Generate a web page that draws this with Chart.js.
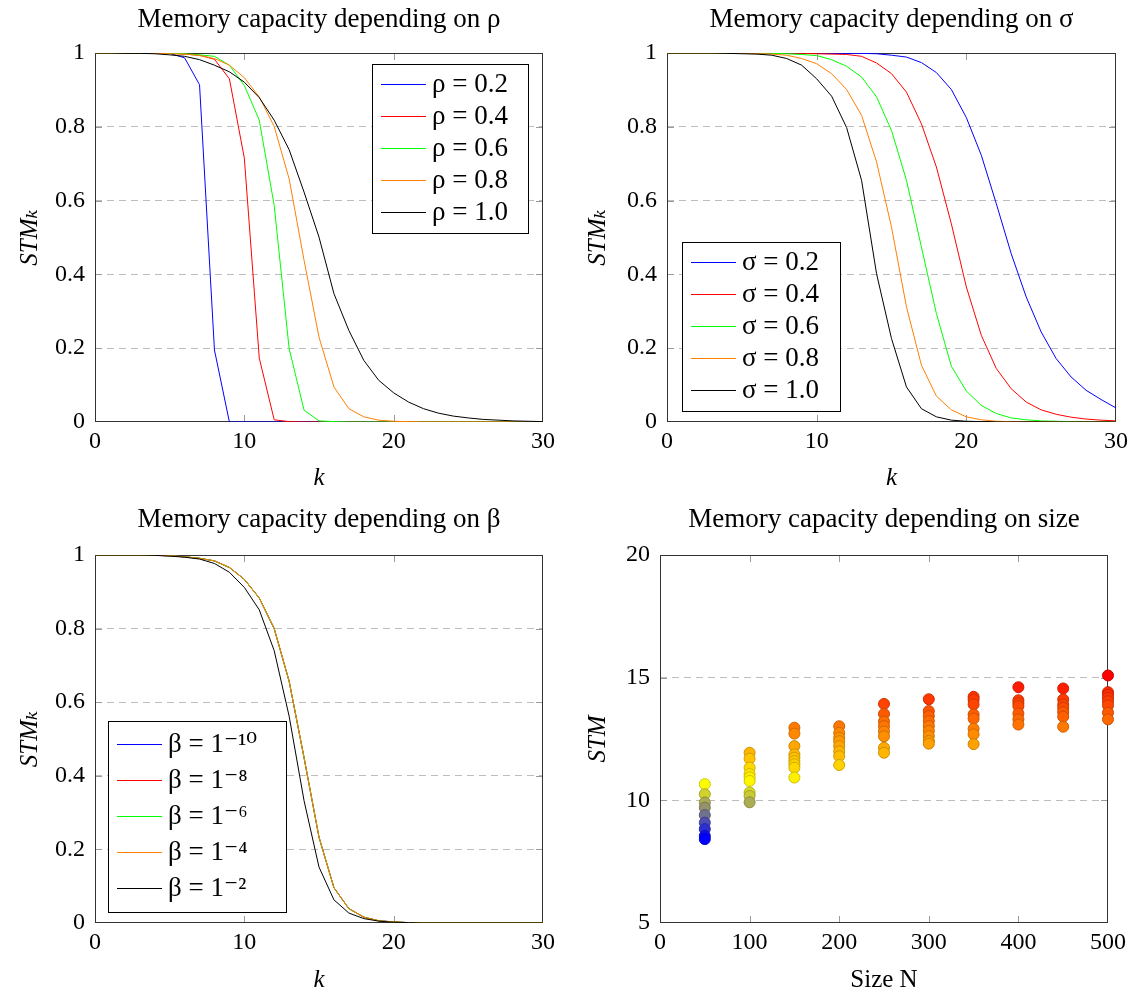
<!DOCTYPE html>
<html>
<head>
<meta charset="utf-8">
<script src="https://cdn.jsdelivr.net/npm/chart.js@4.4.1/dist/chart.umd.min.js"></script>
<style>
  body { margin: 0; background: #fff; }
  #wrap { position: relative; width: 1141px; height: 997px; }
  canvas { position: absolute; }
</style>
</head>
<body>
<div id="wrap">
  <canvas id="rhoChart" width="570" height="500" style="left:0;top:0"></canvas>
  <canvas id="sigmaChart" width="571" height="500" style="left:570px;top:0"></canvas>
  <canvas id="betaChart" width="570" height="497" style="left:0;top:500px"></canvas>
  <canvas id="sizeChart" width="571" height="497" style="left:570px;top:500px"></canvas>
</div>
<script>
// k = delay steps
const kSteps = [0,1,2,3,4,5,6,7,8,9,10,11,12,13,14,15,16,17,18,19,20,21,22,23,24,25,26,27,28,29,30];

// STM_k for different rho
const rhoNames = ["ρ = 0.2", "ρ = 0.4", "ρ = 0.6", "ρ = 0.8", "ρ = 1.0"];
const rho02 = [1,1,1,1,1,0.999,0.987,0.914,0.195,0,0,0,0,0,0,0,0,0,0,0,0,0,0,0,0,0,0,0,0,0,0];
const rho04 = [1,1,1,1,1,0.999,0.997,0.994,0.983,0.930,0.715,0.173,0.006,0.001,0,0,0,0,0,0,0,0,0,0,0,0,0,0,0,0,0];
const rho06 = [1,1,1,1,1,0.999,0.998,0.995,0.991,0.967,0.912,0.818,0.587,0.199,0.032,0.003,0.001,0,0,0,0,0,0,0,0,0,0,0,0,0,0];
const rho08 = [1,1,1,1,0.999,0.998,0.997,0.993,0.985,0.967,0.933,0.881,0.801,0.659,0.438,0.230,0.095,0.036,0.014,0.005,0.002,0.001,0,0,0,0,0,0,0,0,0];
const rho10 = [1,1,0.999,0.999,0.998,0.995,0.991,0.982,0.967,0.949,0.921,0.879,0.818,0.738,0.623,0.501,0.348,0.248,0.167,0.113,0.079,0.054,0.036,0.024,0.016,0.011,0.007,0.005,0.003,0.002,0.001];

// STM_k for different sigma
const sigmaNames = ["σ = 0.2", "σ = 0.4", "σ = 0.6", "σ = 0.8", "σ = 1.0"];
const sigma02 = [1,1,1,1,1,1,1,1,1,1,1,0.999,0.999,0.999,0.998,0.994,0.989,0.974,0.947,0.901,0.825,0.723,0.592,0.456,0.339,0.244,0.172,0.122,0.086,0.061,0.038];
const sigma04 = [1,1,1,1,1,1,1,1,1,0.999,0.998,0.997,0.996,0.991,0.973,0.944,0.894,0.808,0.691,0.537,0.366,0.235,0.145,0.090,0.054,0.033,0.021,0.013,0.008,0.005,0.003];
const sigma06 = [1,1,1,1,1,1,1,0.999,0.998,0.996,0.993,0.982,0.964,0.935,0.881,0.790,0.655,0.474,0.294,0.151,0.084,0.045,0.023,0.011,0.006,0.003,0.002,0.001,0,0,0];
const sigma08 = [1,1,1,1,1,0.999,0.998,0.997,0.994,0.985,0.971,0.944,0.901,0.831,0.705,0.528,0.312,0.154,0.070,0.033,0.014,0.006,0.002,0.001,0,0,0,0,0,0,0];
const sigma10 = [1,1,1,1,0.999,0.998,0.997,0.994,0.985,0.967,0.930,0.883,0.798,0.655,0.402,0.226,0.095,0.036,0.014,0.005,0.002,0.001,0,0,0,0,0,0,0,0,0];

// STM_k for different beta
const betaNames = ["β = 1⁻¹⁰", "β = 1⁻⁸", "β = 1⁻⁶", "β = 1⁻⁴", "β = 1⁻²"];
const beta10 = [1,1,1,1,0.999,0.998,0.995,0.991,0.984,0.966,0.934,0.883,0.800,0.657,0.449,0.233,0.096,0.039,0.016,0.006,0.003,0.001,0,0,0,0,0,0,0,0,0];
const beta8  = [1,1,1,1,0.999,0.998,0.995,0.991,0.984,0.966,0.934,0.883,0.800,0.657,0.449,0.233,0.096,0.039,0.016,0.006,0.003,0.001,0,0,0,0,0,0,0,0,0];
const beta6  = [1,1,1,1,0.999,0.998,0.995,0.991,0.984,0.966,0.934,0.883,0.800,0.657,0.449,0.233,0.096,0.039,0.016,0.006,0.003,0.001,0,0,0,0,0,0,0,0,0];
const beta4  = [1,1,1,1,0.999,0.998,0.995,0.991,0.984,0.966,0.934,0.883,0.800,0.657,0.449,0.233,0.096,0.039,0.016,0.006,0.003,0.001,0,0,0,0,0,0,0,0,0];
const beta2  = [1,1,1,1,0.999,0.997,0.994,0.989,0.977,0.953,0.912,0.851,0.740,0.562,0.332,0.152,0.063,0.027,0.012,0.005,0.002,0.001,0,0,0,0,0,0,0,0,0];

// STM for reservoir sizes (several runs per size)
const sizes = [50, 100, 150, 200, 250, 300, 350, 400, 450, 500];
const stmRuns = [
  [10.66, 10.25, 9.91, 9.70, 9.40, 9.09, 8.83, 8.55, 8.42],
  [11.94, 11.70, 11.33, 11.07, 10.94, 10.79, 10.32, 10.18, 9.92],
  [12.96, 12.72, 12.21, 11.87, 11.74, 11.60, 11.47, 11.33, 10.93],
  [13.02, 12.75, 12.55, 12.41, 12.21, 12.00, 11.80, 11.44],
  [13.93, 13.52, 13.22, 13.02, 12.81, 12.61, 12.14, 11.94],
  [14.12, 13.64, 13.44, 13.23, 13.03, 12.83, 12.62, 12.42, 12.31],
  [14.22, 14.10, 13.91, 13.50, 13.33, 12.92, 12.69, 12.29],
  [14.61, 14.08, 13.96, 13.84, 13.54, 13.30, 13.09],
  [14.56, 14.11, 13.90, 13.77, 13.60, 13.41, 13.00],
  [15.09, 14.41, 14.30, 14.18, 14.04, 13.87, 13.57, 13.30]
];

const lineColors = ["#0000ff", "#ff0000", "#00ff00", "#ff8000", "#000000"];
const SERIF = '"Liberation Serif", "DejaVu Serif", serif';
const gridGray = "#bdbdbd";

// pgfplots-like frame + inner tick marks
const frame = {
  id: "frame",
  beforeDatasetsDraw(chart) {
    const { ctx, chartArea: a, scales } = chart;
    ctx.save();
    ctx.lineWidth = 1;
    ctx.strokeStyle = "#9a9a9a";
    const seg = (x1, y1, x2, y2) => { ctx.beginPath(); ctx.moveTo(x1, y1); ctx.lineTo(x2, y2); ctx.stroke(); };
    scales.x.ticks.forEach(t => {
      if (t.value <= scales.x.min || t.value >= scales.x.max) return;
      const px = Math.round(scales.x.getPixelForValue(t.value)) + 0.5;
      seg(px, a.bottom, px, a.bottom - 7);
      seg(px, a.top, px, a.top + 7);
    });
    scales.y.ticks.forEach(t => {
      if (t.value <= scales.y.min || t.value >= scales.y.max) return;
      const py = Math.round(scales.y.getPixelForValue(t.value)) + 0.5;
      seg(a.left, py, a.left + 7, py);
      seg(a.right, py, a.right - 7, py);
    });
    ctx.strokeStyle = "#333";
    ctx.strokeRect(a.left + 0.5, a.top + 0.5, a.width - 1, a.height - 1);
    ctx.restore();
  }
};

// legend box drawn inside the plot area
const boxLegend = {
  id: "boxLegend",
  afterDraw(chart, args, opts) {
    if (!opts.corner) return;
    const { ctx, chartArea: a } = chart;
    const sets = chart.data.datasets;
    const h = opts.padTop + sets.length * opts.rowHeight + opts.padBottom;
    const x = Math.round(opts.corner.includes("e") ? a.right - opts.inset - opts.width : a.left + opts.inset);
    const y = Math.round(opts.corner.includes("n") ? a.top + 11 : a.bottom - 11 - h);
    ctx.save();
    ctx.fillStyle = "#fff";
    ctx.fillRect(x, y, opts.width, h);
    ctx.strokeStyle = "#000";
    ctx.lineWidth = 1;
    ctx.strokeRect(x + 0.5, y + 0.5, opts.width, h);
    ctx.font = "27px " + SERIF;
    ctx.textBaseline = "middle";
    sets.forEach((ds, i) => {
      const cy = y + opts.padTop + (i + 0.5) * opts.rowHeight;
      ctx.strokeStyle = ds.borderColor;
      ctx.beginPath();
      ctx.moveTo(x + 9, Math.round(cy) + 0.5);
      ctx.lineTo(x + 54, Math.round(cy) + 0.5);
      ctx.stroke();
      ctx.fillStyle = "#000";
      ctx.fillText(ds.label, x + 60, cy + 1);
    });
    ctx.restore();
  }
};

// area = wanted plot rectangle inside the canvas
function axesOptions(title, area, w, h, xAxis, yAxis, legend) {
  return {
    responsive: false,
    animation: false,
    layout: { padding: { left: 0, top: 0, right: w - area.right, bottom: 0 } },
    plugins: {
      legend: { display: false },
      tooltip: { enabled: false },
      title: {
        display: true, text: title, color: "#000", fullSize: false,
        font: { family: SERIF, size: 27, weight: "normal", lineHeight: 1.2 },
        padding: { top: 4, bottom: area.top - 4 - 32.4 }
      },
      boxLegend: legend
    },
    scales: {
      x: {
        type: "linear", min: xAxis.min, max: xAxis.max,
        ticks: { stepSize: xAxis.step, padding: 5, color: "#000", font: { family: SERIF, size: 24 } },
        grid: { display: false, drawTicks: false },
        border: { display: false },
        title: {
          display: true, text: xAxis.title, color: "#000",
          font: { family: SERIF, size: 25, style: xAxis.italic ? "italic" : "normal", lineHeight: 1.2 },
          padding: { top: 0, bottom: xAxis.titleGap }
        },
        afterFit: s => { s.height = h - area.bottom; }
      },
      y: {
        type: "linear", min: yAxis.min, max: yAxis.max,
        ticks: {
          stepSize: yAxis.step, padding: 10, color: "#000", font: { family: SERIF, size: 24 },
          callback: v => String(Number(v.toFixed(2)))
        },
        grid: {
          drawTicks: false, lineWidth: 1,
          color: c => (c.tick && c.tick.value > yAxis.min && c.tick.value < yAxis.max) ? gridGray : "rgba(0,0,0,0)"
        },
        border: { display: false, dash: [7, 5] },
        title: {
          display: true, text: yAxis.title, color: "#000",
          font: { family: SERIF, size: 25, style: "italic", lineHeight: 1.2 },
          padding: { top: yAxis.titleGap, bottom: 0 }
        },
        afterFit: s => { s.width = area.left; }
      }
    }
  };
}

function lineConfig(title, names, series, area, w, h, yTitleGap, xTitleGap, legend) {
  return {
    type: "line",
    data: {
      datasets: series.map((vals, i) => ({
        label: names[i],
        data: vals.map((v, j) => ({ x: kSteps[j], y: v })),
        borderColor: lineColors[i],
        borderWidth: 1,
        pointRadius: 0,
        tension: 0,
        fill: false,
        order: series.length - i   // later series drawn on top, as in pgfplots
      }))
    },
    options: axesOptions(title, area, w, h,
      { min: 0, max: 30, step: 10, title: "k", italic: true, titleGap: xTitleGap },
      { min: 0, max: 1, step: 0.2, title: "STMₖ", titleGap: yTitleGap },
      legend),
    plugins: [frame, boxLegend]
  };
}

new Chart(document.getElementById("rhoChart"), lineConfig(
  "Memory capacity depending on ρ", rhoNames, [rho02, rho04, rho06, rho08, rho10],
  { left: 95, top: 53, right: 543, bottom: 422 }, 570, 500, 15, 7,
  { corner: "ne", inset: 15, width: 156, rowHeight: 32, padTop: 4, padBottom: 5 }));

new Chart(document.getElementById("sigmaChart"), lineConfig(
  "Memory capacity depending on σ", sigmaNames, [sigma02, sigma04, sigma06, sigma08, sigma10],
  { left: 97, top: 53, right: 546, bottom: 422 }, 571, 500, 13, 7,
  { corner: "sw", inset: 15, width: 158, rowHeight: 32, padTop: 4, padBottom: 5 }));

new Chart(document.getElementById("betaChart"), lineConfig(
  "Memory capacity depending on β", betaNames, [beta10, beta8, beta6, beta4, beta2],
  { left: 95, top: 55, right: 543, bottom: 423 }, 570, 497, 15, 2,
  { corner: "sw", inset: 13, width: 178, rowHeight: 36, padTop: 5, padBottom: 6 }));

// colormap blue -> yellow -> orange -> red over the STM range
const cmapStops = [[0, 0, 255], [255, 255, 0], [255, 128, 0], [255, 0, 0]];
const allStm = stmRuns.flat();
const stmLo = Math.min(...allStm), stmHi = Math.max(...allStm);
function cmap(v, shade) {
  const s = Math.min(Math.max((v - stmLo) / (stmHi - stmLo), 0), 1) * (cmapStops.length - 1);
  const i = Math.min(Math.floor(s), cmapStops.length - 2);
  const f = s - i;
  const c = cmapStops[i].map((a, j) => Math.round((a + (cmapStops[i + 1][j] - a) * f) * shade));
  return "rgb(" + c.join(",") + ")";
}

const sizePoints = [];
sizes.forEach((n, i) => stmRuns[i].forEach(v => sizePoints.push({ x: n, y: v })));

const sizeOptions = axesOptions("Memory capacity depending on size",
  { left: 90, top: 55, right: 538, bottom: 423 }, 571, 497,
  { min: 0, max: 500, step: 100, title: "Size N", italic: false, titleGap: 2 },
  { min: 5, max: 20, step: 5, title: "STM", titleGap: 13 },
  {});

new Chart(document.getElementById("sizeChart"), {
  type: "scatter",
  data: {
    datasets: [{
      label: "STM",
      data: sizePoints,
      pointRadius: 5.5,
      borderWidth: 1,
      clip: false,
      backgroundColor: c => cmap(c.raw.y, 1),
      borderColor: c => cmap(c.raw.y, 0.8)
    }]
  },
  options: sizeOptions,
  plugins: [frame]
});
</script>
</body>
</html>
